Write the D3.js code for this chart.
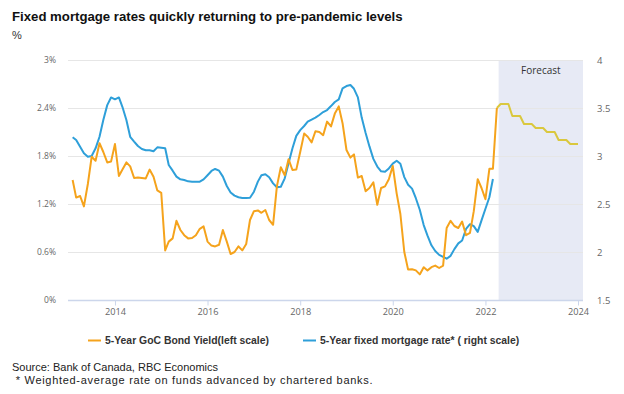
<!DOCTYPE html>
<html>
<head>
<meta charset="utf-8">
<script src="https://cdn.jsdelivr.net/npm/d3@7"></script>
<style>
  html, body { margin: 0; padding: 0; background: #fff; }
  svg { display: block; }
</style>
</head>
<body>
<svg id="chart" width="624" height="394"></svg>
<script>
// ---------------- DATA ----------------
const title = "Fixed mortgage rates quickly returning to pre-pandemic levels";
const unitLabel = "%";
const seriesNames = ["5-Year GoC Bond Yield(left scale)", "5-Year fixed mortgage rate* ( right scale)"];
const sourceLines = ["Source: Bank of Canada, RBC Economics", " * Weighted-average rate on funds advanced by chartered banks."];
const forecastLabel = "Forecast";

const firstMonth = "2013-02-01";       // first monthly observation
const forecastFirstMonth = "2022-04-01"; // forecast series starts here
const forecastBandStart = "2022-04-15";

// 5-Year GoC bond yield (%), monthly, left scale
const bondYield = [
  1.50,1.28,1.30,1.17,1.45,1.79,1.74,1.96,1.85,1.72,
  1.73,1.95,1.55,1.63,1.72,1.67,1.525,1.53,1.525,1.52,
  1.63,1.54,1.37,1.34,0.62,0.73,0.77,0.99,0.875,0.81,
  0.77,0.775,0.81,0.89,0.92,0.73,0.68,0.67,0.69,0.875,
  0.73,0.575,0.60,0.67,0.62,0.70,1.00,1.11,1.12,1.09,
  1.125,1.00,0.94,1.42,1.66,1.56,1.76,1.625,1.63,1.85,
  2.08,2.04,1.97,2.11,2.10,2.06,2.23,2.17,2.33,2.42,
  2.21,1.875,1.78,1.82,1.53,1.55,1.36,1.40,1.47,1.19,
  1.40,1.42,1.51,1.675,1.33,1.075,0.60,0.38,0.385,0.37,
  0.32,0.41,0.37,0.41,0.43,0.40,0.43,0.90,0.99,0.925,
  0.90,0.98,0.81,0.84,1.11,1.51,1.40,1.26,1.64,1.64,
  2.40
];

// 5-Year fixed mortgage rate (%), monthly, right scale
const mortgageRate = [
  3.195,3.167,3.097,3.028,2.993,3.00,3.08,3.20,3.375,3.53,
  3.61,3.59,3.61,3.51,3.375,3.20,3.15,3.104,3.073,3.06,
  3.06,3.05,3.09,3.085,3.08,2.906,2.847,2.785,2.757,2.75,
  2.736,2.733,2.733,2.733,2.757,2.80,2.844,2.865,2.847,2.785,
  2.6875,2.62,2.587,2.57,2.5625,2.5625,2.565,2.628,2.733,2.80,
  2.81,2.778,2.715,2.674,2.68,2.767,2.924,3.08,3.21,3.27,
  3.3125,3.357,3.38,3.40,3.427,3.458,3.479,3.52,3.5625,3.59,
  3.705,3.729,3.74,3.70,3.61,3.40,3.24,3.10,2.97,2.89,
  2.84,2.836,2.87,2.92,2.95,2.92,2.78,2.70,2.66,2.56,
  2.44,2.28,2.17,2.07,2.01,1.97,1.95,1.93,1.96,2.03,
  2.09,2.12,2.24,2.29,2.27,2.21,2.33,2.45,2.57,2.76
];

// Bond yield forecast (%), monthly, left scale
const bondForecast = [
  2.40,
  2.45,2.45,2.45, 2.30,2.30,2.30, 2.20,2.20,2.20, 2.15,2.15,2.15,
  2.10,2.10,2.10, 2.00,2.00,2.00, 1.95,1.95,1.95
];

const leftTicks = [0, 0.6, 1.2, 1.8, 2.4, 3];
const leftTickLabels = ["0%", "0.6%", "1.2%", "1.8%", "2.4%", "3%"];
const rightTicks = [1.5, 2, 2.5, 3, 3.5, 4];
const rightTickLabels = ["1.5", "2", "2.5", "3", "3.5", "4"];
const xTickYears = [2014, 2016, 2018, 2020, 2022, 2024];

// ---------------- LAYOUT ----------------
const W = 624, H = 394;
const plotL = 68, plotR = 583, plotT = 60, plotB = 300;
const colors = { bond: "#f5a31c", mortgage: "#2e9fd9", forecast: "#dac83e", band: "#e7eaf5", grid: "#e6e6e6", axis: "#ccd6eb" };

const parse = d3.timeParse("%Y-%m-%d");
const monthsFrom = (start, n) => d3.range(n).map(i => d3.timeMonth.offset(parse(start), i));

const x = d3.scaleTime()
  .domain([new Date(2013, 0, 1), new Date(2024, 0, 1)])
  .range([68.7, 578]);
const yL = d3.scaleLinear().domain([0, 3]).range([plotB, plotT]);
const yR = d3.scaleLinear().domain([1.5, 4]).range([plotB, plotT]);

const svg = d3.select("#chart");
svg.append("rect").attr("width", W).attr("height", H).attr("fill", "#fff");

// Title and unit
svg.append("text").attr("x", 12).attr("y", 21)
  .attr("font-family", "Liberation Sans, Arial, sans-serif").attr("font-weight", "bold")
  .attr("font-size", 13.2).attr("fill", "#111").text(title);
svg.append("text").attr("x", 12).attr("y", 39)
  .attr("font-family", "Liberation Sans, Arial, sans-serif")
  .attr("font-size", 11).attr("fill", "#333").text(unitLabel);

// Forecast band
const bandX0 = x(parse(forecastBandStart));
svg.append("rect").attr("x", bandX0).attr("y", plotT)
  .attr("width", plotR - bandX0).attr("height", plotB - plotT)
  .attr("fill", colors.band);
svg.append("text").attr("x", (bandX0 + plotR) / 2).attr("y", 73.5)
  .attr("text-anchor", "middle")
  .attr("font-family", "Open Sans, sans-serif").attr("font-size", 10)
  .attr("fill", "#333").text(forecastLabel);

// Gridlines (left scale)
svg.append("g").selectAll("line").data(leftTicks.slice(1)).join("line")
  .attr("x1", plotL).attr("x2", plotR)
  .attr("y1", d => Math.round(yL(d)) + 0.5).attr("y2", d => Math.round(yL(d)) + 0.5)
  .attr("stroke", colors.grid).attr("stroke-width", 1);

// X axis
const xAxis = d3.axisBottom(x)
  .tickValues(xTickYears.map(yr => new Date(yr, 0, 1)))
  .tickFormat(d3.timeFormat("%Y"))
  .tickSize(5).tickSizeOuter(0);
const gx = svg.append("g").attr("transform", `translate(0,${plotB + 0.5})`).call(xAxis);
gx.select(".domain").remove();
gx.append("line").attr("x1", plotL).attr("x2", plotR).attr("y1", 0).attr("y2", 0)
  .attr("stroke", colors.axis).attr("stroke-width", 1.5);
gx.selectAll(".tick line").attr("stroke", colors.axis);
gx.selectAll(".tick text").attr("y", 8).attr("dy", "0.71em")
  .attr("font-family", "Open Sans, sans-serif").attr("font-size", 9.2).attr("fill", "#666");

// Left axis
const gyL = svg.append("g").attr("transform", `translate(${plotL},0)`)
  .call(d3.axisLeft(yL).tickValues(leftTicks).tickFormat((d, i) => leftTickLabels[i]).tickSize(0).tickPadding(12));
gyL.select(".domain").remove();
gyL.selectAll(".tick text").attr("font-family", "Open Sans, sans-serif").attr("font-size", 8.5).attr("fill", "#666");

// Right axis
const gyR = svg.append("g").attr("transform", `translate(${plotR},0)`)
  .call(d3.axisRight(yR).tickValues(rightTicks).tickFormat((d, i) => rightTickLabels[i]).tickSize(0).tickPadding(14));
gyR.select(".domain").remove();
gyR.selectAll(".tick text").attr("font-family", "Open Sans, sans-serif").attr("font-size", 9.5).attr("fill", "#666");

// Lines
const bondDates = monthsFrom(firstMonth, bondYield.length);
const mortDates = monthsFrom(firstMonth, mortgageRate.length);
const fcDates = monthsFrom(forecastFirstMonth, bondForecast.length);

const lineL = d3.line().x(d => x(d[0])).y(d => yL(d[1]));
const lineR = d3.line().x(d => x(d[0])).y(d => yR(d[1]));

svg.append("path").datum(d3.zip(fcDates, bondForecast)).attr("d", lineL)
  .attr("fill", "none").attr("stroke", colors.forecast).attr("stroke-width", 2).attr("stroke-linejoin", "round");
svg.append("path").datum(d3.zip(mortDates, mortgageRate)).attr("d", lineR)
  .attr("fill", "none").attr("stroke", colors.mortgage).attr("stroke-width", 2).attr("stroke-linejoin", "round");
svg.append("path").datum(d3.zip(bondDates, bondYield)).attr("d", lineL)
  .attr("fill", "none").attr("stroke", colors.bond).attr("stroke-width", 2).attr("stroke-linejoin", "round");

// Legend
const legendItems = [
  { name: seriesNames[0], color: colors.bond, x: 88 },
  { name: seriesNames[1], color: colors.mortgage, x: 303 }
];
const lg = svg.append("g").selectAll("g").data(legendItems).join("g")
  .attr("transform", d => `translate(${d.x},340)`);
lg.append("line").attr("x1", 0).attr("x2", 13).attr("y1", 0.5).attr("y2", 0.5)
  .attr("stroke", d => d.color).attr("stroke-width", 2);
lg.append("text").attr("x", 17).attr("y", 4)
  .attr("font-family", "Liberation Sans, Arial, sans-serif").attr("font-weight", "bold")
  .attr("font-size", 10.4).attr("fill", "#333").text(d => d.name);

// Source / note
const footSpacing = [0, 0.7];
svg.append("g").selectAll("text").data(sourceLines).join("text")
  .attr("x", 12).attr("y", (d, i) => 371 + i * 13)
  .attr("font-family", "Liberation Sans, Arial, sans-serif").attr("font-size", 11)
  .attr("letter-spacing", (d, i) => footSpacing[i])
  .attr("fill", "#222").attr("xml:space", "preserve").style("white-space", "pre").text(d => d);
</script>
</body>
</html>
